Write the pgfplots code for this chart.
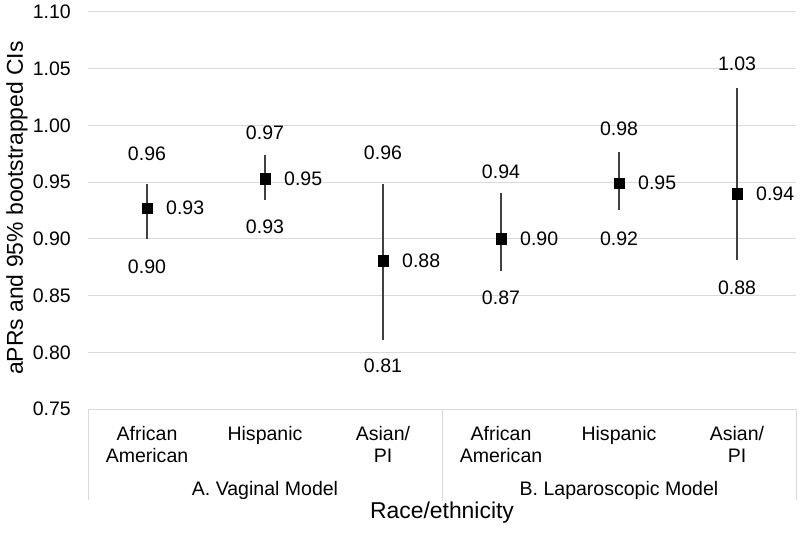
\documentclass[border=0pt]{standalone}
\usepackage{pgfplots}
\pgfplotsset{compat=1.18}
\usepackage{pgfplotstable}
\usepackage{fontspec}
\setmainfont{Liberation Sans}

\definecolor{gridc}{HTML}{D9D9D9}
\definecolor{barc}{HTML}{404040}
\newcommand\lab{\fontsize{19.6}{22}\selectfont}
\newcommand\ttl{\fontsize{23}{27}\selectfont}

% point estimate, CI upper (ep) / lower (em) distance, label
\pgfplotstableread{
x y     ep    em    lab
1 0.927 0.021 0.027 0.93
2 0.953 0.021 0.019 0.95
3 0.881 0.067 0.070 0.88
4 0.900 0.040 0.028 0.90
5 0.949 0.028 0.024 0.95
6 0.940 0.093 0.059 0.94
}\est

% CI limit labels (x, label position, text)
\pgfplotstableread{
x ypos   lab
1 0.975  0.96
1 0.8752 0.90
2 0.9938 0.97
2 0.9105 0.93
3 0.9757 0.96
3 0.7879 0.81
4 0.959  0.94
4 0.8479 0.87
5 0.9969 0.98
5 0.8999 0.92
6 1.0542 1.03
6 0.8567 0.88
}\cilab

\begin{document}
\begin{tikzpicture}
\useasboundingbox (-88bp,-125bp) rectangle (712bp,409bp);
\begin{axis}[
    scale only axis,
    width=708bp, height=397bp,
    at={(0,0)}, anchor=south west,
    xmin=0.5, xmax=6.5,
    ymin=0.75, ymax=1.10,
    clip=false,
    axis line style={draw=none},
    xtick={1,2,3,4,5,6},
    xticklabels={{African\\American},Hispanic,{Asian/\\PI},{African\\American},Hispanic,{Asian/\\PI}},
    xticklabel style={align=center, anchor=north, inner sep=0pt, yshift=-17bp, font=\lab},
    ytick={0.75,0.80,0.85,0.90,0.95,1.00,1.05,1.10},
    yticklabel={\pgfmathprintnumber[fixed,fixed zerofill,precision=2]{\tick}},
    yticklabel style={anchor=east, inner sep=0pt, xshift=-17bp, font=\lab},
    /pgf/number format/assume math mode=true,
    major tick length=0pt,
    ymajorgrids,
    grid style={gridc, line width=1bp},
]
\addplot[only marks, mark=square*, mark size=5.3bp,
    mark options={fill=black, draw=black},
    error bars/.cd, y dir=both, y explicit, error mark=none,
    error bar style={barc, line width=1.3bp}]
    table[x=x, y=y, y error plus=ep, y error minus=em]{\est};
\addplot[draw=none, mark=none,
    nodes near coords, point meta=explicit symbolic,
    nodes near coords align=center,
    nodes near coords style={anchor=west, xshift=19bp, inner sep=0pt, font=\lab}]
    table[x=x, y=y, meta=lab]{\est};
\addplot[draw=none, mark=none,
    nodes near coords, point meta=explicit symbolic,
    nodes near coords align=center,
    nodes near coords style={anchor=center, inner sep=0pt, font=\lab}]
    table[x=x, y=ypos, meta=lab]{\cilab};
\end{axis}
% category group separators and labels
\foreach \sx in {0,354,708}
    \draw[gridc, line width=1bp] (\sx bp,0) -- (\sx bp,-91bp);
\node[font=\lab] at (177bp,-81bp) {A. Vaginal Model};
\node[font=\lab] at (531bp,-81bp) {B. Laparoscopic Model};
\node[font=\ttl] at (354bp,-104bp) {Race/ethnicity};
\node[font=\ttl, rotate=90] at (-71bp,201bp) {aPRs and 95\% bootstrapped CIs};
\end{tikzpicture}
\end{document}
